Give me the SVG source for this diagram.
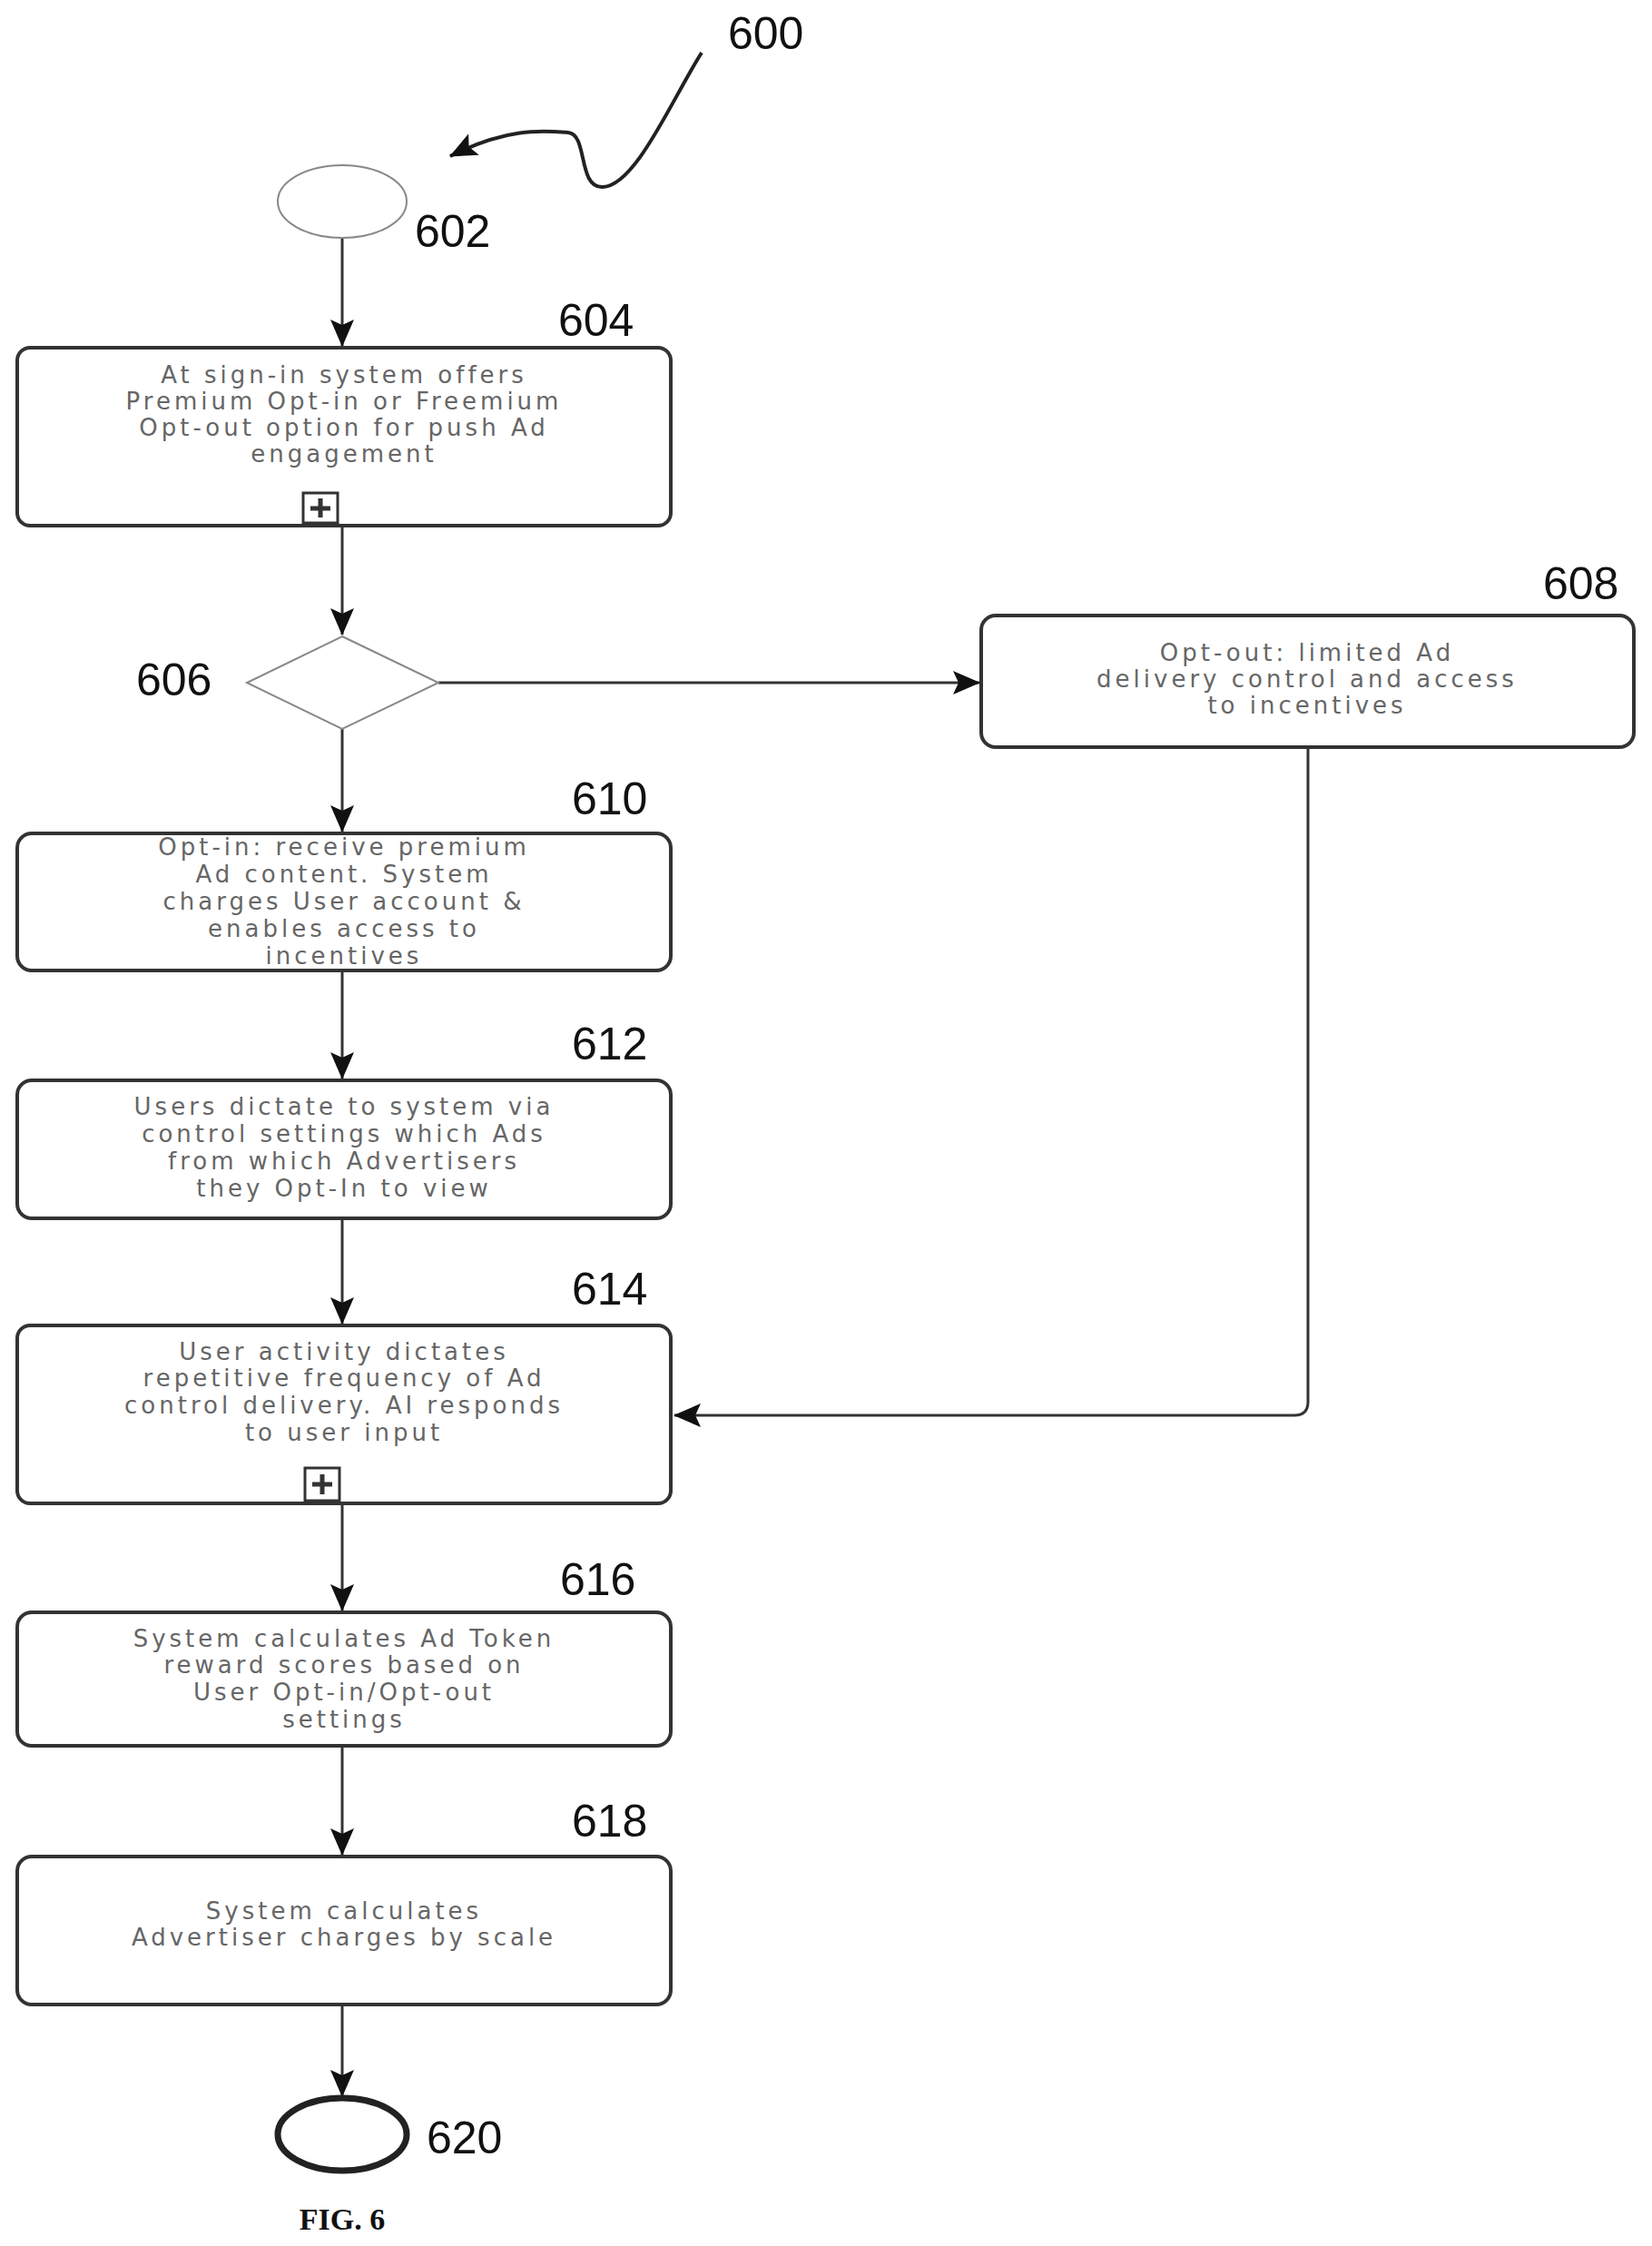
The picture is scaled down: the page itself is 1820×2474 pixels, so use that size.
<svg xmlns="http://www.w3.org/2000/svg" width="1820" height="2474" viewBox="0 0 1820 2474">
<style>
.box{fill:#fff;stroke:#333;stroke-width:4}
.t{font-family:"DejaVu Sans",sans-serif;font-size:26px;fill:#666;text-anchor:middle;letter-spacing:4px}
.lbl{font-family:"Liberation Sans Narrow","Liberation Sans",sans-serif;font-size:50px;fill:#111}
.c{fill:none;stroke:#333;stroke-width:3}
</style>
<defs>
<marker id="ab" markerWidth="30" markerHeight="26" refX="29" refY="13" orient="auto" markerUnits="userSpaceOnUse" viewBox="0 0 30 26"><path d="M0,0 L30,13 L0,26 L6,13 Z" fill="#111"/></marker>
</defs>
<rect width="1820" height="2474" fill="#fff"/>
<g id="ref600">
<text class="lbl" x="802" y="54">600</text>
<path d="M773,58 C740,110 700,205 664,206 C636,207 648,148 626,146 C598,144 560,140 496,172" fill="none" stroke="#222" stroke-width="4" marker-end="url(#ab)"/>
</g>
<g id="connectors">
<line class="c" x1="377" y1="262" x2="377" y2="381" marker-end="url(#ab)"/>
<line class="c" x1="377" y1="579" x2="377" y2="699" marker-end="url(#ab)"/>
<line class="c" x1="483" y1="752" x2="1079" y2="752" marker-end="url(#ab)"/>
<line class="c" x1="377" y1="803" x2="377" y2="916" marker-end="url(#ab)"/>
<line class="c" x1="377" y1="1069" x2="377" y2="1188" marker-end="url(#ab)"/>
<line class="c" x1="377" y1="1342" x2="377" y2="1458" marker-end="url(#ab)"/>
<line class="c" x1="377" y1="1656" x2="377" y2="1774" marker-end="url(#ab)"/>
<line class="c" x1="377" y1="1923" x2="377" y2="2043" marker-end="url(#ab)"/>
<line class="c" x1="377" y1="2208" x2="377" y2="2309" marker-end="url(#ab)"/>
<path class="c" d="M1441,823 L1441,1544 Q1441,1559 1426,1559 L743,1559" marker-end="url(#ab)"/>
</g>
<g id="n602"><ellipse cx="377" cy="222" rx="71" ry="40" fill="#fff" stroke="#888" stroke-width="2"/><text class="lbl" x="457" y="272">602</text></g>
<g id="n604"><rect class="box" x="19" y="383" width="720" height="196" rx="14"/>
<text class="t" x="379" y="422">At sign-in system offers</text>
<text class="t" x="379" y="451">Premium Opt-in or Freemium</text>
<text class="t" x="379" y="480">Opt-out option for push Ad</text>
<text class="t" x="379" y="509">engagement</text>
<rect x="334" y="543" width="38" height="33" fill="#fff" stroke="#333" stroke-width="3"/><path d="M353,549 V570 M342,560 H364" stroke="#333" stroke-width="5"/>
<text class="lbl" x="615" y="370">604</text></g>
<g id="n606"><polygon points="377,701 483,752 377,803 272,752" fill="#fff" stroke="#888" stroke-width="2"/><text class="lbl" x="150" y="766">606</text></g>
<g id="n608"><rect class="box" x="1081" y="678" width="719" height="145" rx="16"/>
<text class="t" x="1440" y="728">Opt-out: limited Ad</text>
<text class="t" x="1440" y="757">delivery control and access</text>
<text class="t" x="1440" y="786">to incentives</text>
<text class="lbl" x="1700" y="660">608</text></g>
<g id="n610"><rect class="box" x="19" y="918" width="720" height="151" rx="16"/>
<text class="t" x="379" y="942">Opt-in: receive premium</text>
<text class="t" x="379" y="972">Ad content. System</text>
<text class="t" x="379" y="1002">charges User account &amp;</text>
<text class="t" x="379" y="1032">enables access to</text>
<text class="t" x="379" y="1062">incentives</text>
<text class="lbl" x="630" y="897">610</text></g>
<g id="n612"><rect class="box" x="19" y="1190" width="720" height="152" rx="16"/>
<text class="t" x="379" y="1228">Users dictate to system via</text>
<text class="t" x="379" y="1258">control settings which Ads</text>
<text class="t" x="379" y="1288">from which Advertisers</text>
<text class="t" x="379" y="1318">they Opt-In to view</text>
<text class="lbl" x="630" y="1167">612</text></g>
<g id="n614"><rect class="box" x="19" y="1460" width="720" height="196" rx="14"/>
<text class="t" x="379" y="1498">User activity dictates</text>
<text class="t" x="379" y="1527">repetitive frequency of Ad</text>
<text class="t" x="379" y="1557">control delivery. AI responds</text>
<text class="t" x="379" y="1587">to user input</text>
<rect x="336" y="1617" width="38" height="36" fill="#fff" stroke="#333" stroke-width="3"/><path d="M355,1624 V1646 M344,1635 H366" stroke="#333" stroke-width="5"/>
<text class="lbl" x="630" y="1437">614</text></g>
<g id="n616"><rect class="box" x="19" y="1776" width="720" height="147" rx="16"/>
<text class="t" x="379" y="1814">System calculates Ad Token</text>
<text class="t" x="379" y="1843">reward scores based on</text>
<text class="t" x="379" y="1873">User Opt-in/Opt-out</text>
<text class="t" x="379" y="1903">settings</text>
<text class="lbl" x="617" y="1757">616</text></g>
<g id="n618"><rect class="box" x="19" y="2045" width="720" height="163" rx="16"/>
<text class="t" x="379" y="2114">System calculates</text>
<text class="t" x="379" y="2143">Advertiser charges by scale</text>
<text class="lbl" x="630" y="2023">618</text></g>
<g id="n620"><ellipse cx="377" cy="2351" rx="71" ry="40" fill="#fff" stroke="#222" stroke-width="7"/><text class="lbl" x="470" y="2372">620</text></g>
<text x="377" y="2456" font-family="Liberation Serif,serif" font-weight="bold" font-size="34" text-anchor="middle" fill="#111">FIG. 6</text>
</svg>
